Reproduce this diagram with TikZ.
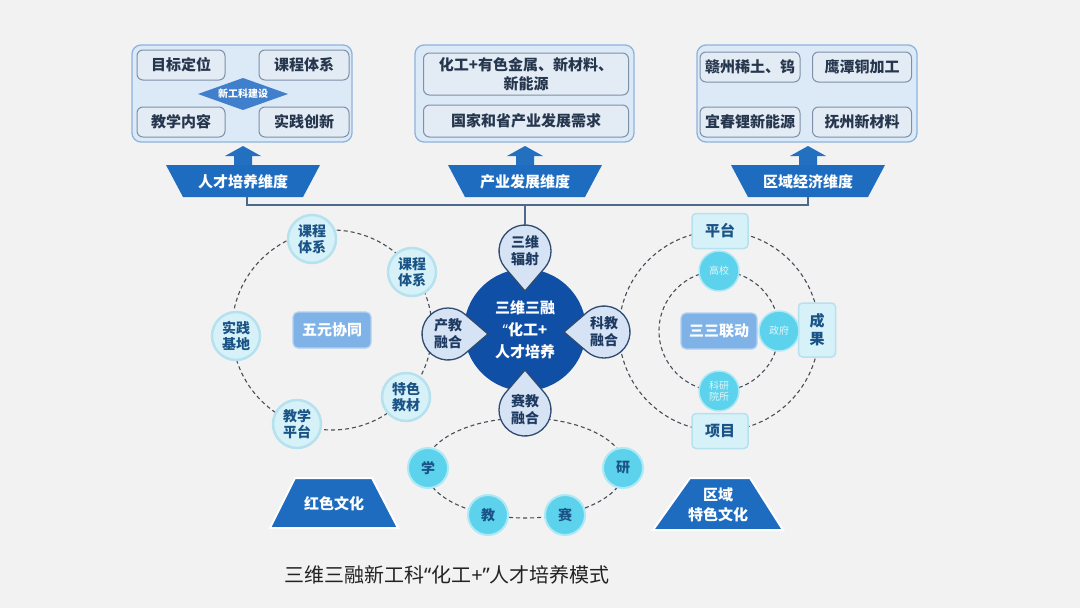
\documentclass[tikz,border=0pt]{standalone}
\usepackage{fontspec}
\setmainfont{Noto Sans CJK SC}
\newfontfamily\latinq{Noto Sans}
\usetikzlibrary{calc}
\definecolor{bg}{HTML}{F2F2F3}
\definecolor{ofill}{HTML}{DCEAF7}
\definecolor{obord}{HTML}{8DB3DC}
\definecolor{ifill}{HTML}{E3EBF5}
\definecolor{ibord}{HTML}{7E90A8}
\definecolor{itext}{HTML}{26364D}
\definecolor{diam}{HTML}{3F7FCC}
\definecolor{trap}{HTML}{1E6CBF}
\definecolor{arrowc}{HTML}{2470C0}
\definecolor{linec}{HTML}{4D6A8C}
\definecolor{dblue}{HTML}{0F4FA5}
\definecolor{tfill}{HTML}{D5E3F5}
\definecolor{tbord}{HTML}{2F4B70}
\definecolor{ttext}{HTML}{1E3A60}
\definecolor{cfill}{HTML}{D6F1F8}
\definecolor{cglow}{HTML}{B5E2EE}
\definecolor{ctext}{HTML}{1A5386}
\definecolor{mblue}{HTML}{7FB3E8}
\definecolor{cyantwo}{HTML}{5CD2EC}
\definecolor{captext}{HTML}{222222}
\definecolor{dashc}{HTML}{464E58}
\newcommand\fsz[2]{\fontsize{#1}{#2}\selectfont}
\newcommand\uparr[1]{\fill[arrowc] (#1-9,166) -- (#1-9,156) -- (#1-18,156) -- (#1,146) -- (#1+18,156) -- (#1+9,156) -- (#1+9,166) -- cycle;}
\newcommand\toptrap[1]{\fill[trap] (#1-77,165) -- (#1+77,165) -- (#1+60,197) -- (#1-60,197) -- cycle;}
\newcommand\tear[3]{\path[tearsty] ($(#1,#2)+(#3:40)$) -- ($(#1,#2)+(#3+49.5:26)$) arc[start angle=#3+49.5, end angle=#3+310.5, radius=26] -- cycle;}
\tikzset{
  outerbox/.style={draw=obord, fill=ofill, line width=1.3pt, rounded corners=9pt},
  innerbox/.style={draw=ibord, fill=ifill, line width=1pt, rounded corners=6pt, text=itext, font=\bfseries\fsz{15}{19}, inner sep=0pt, align=center},
  traptext/.style={text=white, font=\bfseries\fsz{15}{18}, align=center},
  conn/.style={draw=linec, line width=1.2pt},
  ringsty/.style={draw=dashc, line width=1.1pt, dash pattern=on 4pt off 3pt},
  tearsty/.style={fill=tfill, draw=tbord, line width=1.3pt},
  teartext/.style={circle, minimum size=52pt, inner sep=0pt, text=ttext, font=\bfseries\fsz{14}{17}, align=center},
  ringnode/.style={circle, minimum size=48pt, inner sep=0pt, fill=cfill, draw=cglow, line width=2.5pt, text=ctext, font=\bfseries\fsz{14}{16}, align=center},
  sqbox/.style={rectangle, rounded corners=4pt, fill=cfill, draw=cglow, line width=1.5pt, text=ctext, font=\bfseries\fsz{15}{18}, inner sep=0pt, align=center},
  midbox/.style={rectangle, rounded corners=5pt, fill=mblue, draw=mblue!60, line width=1.2pt, text=white, font=\bfseries\fsz{15}{18}, minimum height=36pt, inner sep=0pt},
  smallcyan/.style={circle, minimum size=40pt, inner sep=0pt, fill=cyantwo, draw=cyantwo!50, line width=1.5pt, text=white!80!cyantwo, font=\fsz{10}{11}, align=center},
  botnode/.style={circle, minimum size=40pt, inner sep=0pt, fill=cyantwo, draw=cyantwo!50, line width=2pt, text=ctext, font=\bfseries\fsz{14}{16}},
  bottrap/.style={fill=trap, draw=white, line width=2pt},
}
\begin{document}
\begin{tikzpicture}[x=1pt,y=-1pt]
\useasboundingbox (0,0) rectangle (1080,608);
\fill[bg] (0,0) rectangle (1080,608);

% ---------- top boxes ----------
\draw[outerbox] (132,45) rectangle (352,142);
\node[innerbox, minimum width=88pt, minimum height=30pt] (b1a) at (181,65) {目标定位};
\node[innerbox, minimum width=90pt, minimum height=30pt] (b1b) at (304,65) {课程体系};
\node[innerbox, minimum width=88pt, minimum height=30pt] (b1c) at (181,122) {教学内容};
\node[innerbox, minimum width=90pt, minimum height=30pt] (b1d) at (304,122) {实践创新};
\fill[diam] (198,94) -- (243,78) -- (288,94) -- (243,110) -- cycle;
\node[text=white, font=\bfseries\fsz{10}{12}] (b1e) at (243,94) {新工科建设};

\draw[outerbox] (415,45) rectangle (634,142);
\node[innerbox, minimum width=205pt, minimum height=42pt] (b2a) at (526,74) {化工+有色金属、新材料、\\新能源};
\node[innerbox, minimum width=205pt, minimum height=32pt] (b2b) at (526,121) {国家和省产业发展需求};

\draw[outerbox] (697,45) rectangle (917,142);
\node[innerbox, minimum width=100pt, minimum height=30pt] (b3a) at (750,67) {赣州稀土、钨};
\node[innerbox, minimum width=99pt, minimum height=30pt] (b3b) at (862,67) {鹰潭铜加工};
\node[innerbox, minimum width=100pt, minimum height=30pt] (b3c) at (750,122) {宜春锂新能源};
\node[innerbox, minimum width=99pt, minimum height=30pt] (b3d) at (862,122) {抚州新材料};

% ---------- arrows and dimension labels ----------
\uparr{243}
\uparr{525}
\uparr{808}

\coordinate (t1b) at (247,197);
\coordinate (t3b) at (808,197);
\coordinate (hub) at (525,205);
\draw[conn] (t1b) |- (hub) -| (t3b);

\toptrap{243}
\toptrap{525}
\toptrap{808}
\node[traptext] (tp1) at (243,182) {人才培养维度};
\node[traptext] (tp2) at (525,182) {产业发展维度};
\node[traptext] (tp3) at (808,182) {区域经济维度};

% ---------- left ring ----------
\draw[ringsty] (332,330) circle[radius=100];
\node[midbox, minimum width=78pt] (wyxt) at (332,330) {五元协同};
\node[ringnode] (l1) at (312,239) {课程\\体系};
\node[ringnode] (l2) at (412,272) {课程\\体系};
\node[ringnode] (l3) at (236,336) {实践\\基地};
\node[ringnode] (l4) at (297,424) {教学\\平台};
\node[ringnode] (l5) at (406,397) {特色\\教材};

% ---------- right ring ----------
\draw[ringsty] (719,331) circle[radius=100];
\draw[ringsty] (719,331) circle[radius=60];
\node[midbox, minimum width=76pt] (ssld) at (719,331) {三三联动};
\node[sqbox, minimum width=56pt, minimum height=35pt] (pt) at (720,231) {平台};
\node[sqbox, minimum width=56pt, minimum height=35pt] (xm) at (720,431) {项目};
\node[sqbox, minimum width=37pt, minimum height=54pt] (cg) at (817,330) {成\\果};
\node[smallcyan] (gx) at (719,271) {高校};
\node[smallcyan] (zf) at (779,331) {政府};
\node[smallcyan] (ky) at (719,391) {科研\\院所};

% ---------- bottom ellipse ----------
\draw[ringsty] (525,468) ellipse[x radius=100, y radius=50];
\node[botnode] (xue) at (428,468) {学};
\node[botnode] (jiao) at (488,515) {教};
\node[botnode] (sai) at (565,515) {赛};
\node[botnode] (yan) at (623,468) {研};

% ---------- core ----------
\node[circle, minimum size=122pt, inner sep=0pt, fill=dblue] (core) at (525,330) {};
\tear{525}{251}{90}
\tear{448}{334}{0}
\tear{604}{332}{180}
\tear{525}{410}{-90}
\node[teartext] (fuse) at (525,251) {三维\\辐射};
\node[teartext] (cjrh) at (448,334) {产教\\融合};
\node[teartext] (kjrh) at (604,332) {科教\\融合};
\node[teartext] (sjrh) at (525,410) {赛教\\融合};
\node[text=white, font=\bfseries\fsz{15}{22}, align=center] (coretext) at (core) {三维三融\\{\latinq “}化工+\\人才培养};
\draw[conn] (hub) -- (fuse.north);

% ---------- bottom trapezoids ----------
\path[bottrap] (295,478) -- (372,478) -- (398,528) -- (270,528) -- cycle;
\node[traptext] (hswh) at (334,504) {红色文化};
\path[bottrap] (690,478) -- (750,478) -- (783,530) -- (653,530) -- cycle;
\node[traptext, font=\bfseries\fsz{15}{20}] (qytswh) at (718,505) {区域\\特色文化};

% ---------- caption ----------
\node[font=\fsz{20}{24}, text=captext] (cap) at (447,575) {三维三融新工科{\latinq “}化工{\latinq +”}人才培养模式};
\end{tikzpicture}
\end{document}
